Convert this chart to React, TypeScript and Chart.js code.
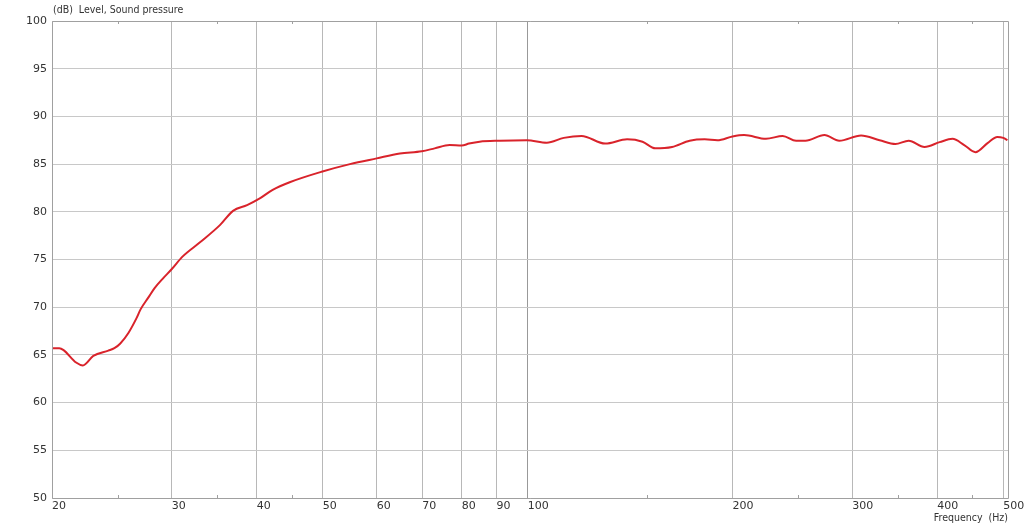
import React, { useEffect, useRef } from "react";
import { Chart, registerables } from "chart.js";

Chart.register(...registerables);

const frequencies: number[] = [
  20, 20.5, 20.8, 21.7, 22.2, 23.0, 24.2, 24.7, 25.2, 25.9, 26.6, 27.0, 27.7, 28.3, 29.1, 30.0,
  31.1, 33.0, 35.3, 36.9, 38.7, 40.4, 42.2, 44.7, 49.8, 54.8, 60.0, 64.9, 69.9, 73.0, 76.8,
  80, 82, 85, 91, 99.7, 106.7, 113, 120, 130, 140, 147.5, 154, 163, 173, 182, 190, 200, 208,
  224, 237, 248, 256, 273, 287, 309, 329, 347, 363, 383, 403, 421, 438, 455, 474, 490, 500, 507,
];
const levels: number[] = [
  65.7, 65.7, 65.5, 64.2, 63.9, 64.9, 65.45, 65.7, 66.2, 67.3, 68.8, 69.8, 71.0, 72.0, 73.0, 74.0,
  75.3, 76.8, 78.6, 80.1, 80.7, 81.4, 82.3, 83.1, 84.2, 85.0, 85.6, 86.1, 86.35, 86.65, 87.0,
  86.95, 87.15, 87.35, 87.45, 87.5, 87.25, 87.75, 87.95, 87.15, 87.6, 87.35, 86.65, 86.8, 87.45, 87.6, 87.5, 87.9, 88.05,
  87.65, 87.95, 87.45, 87.45, 88.05, 87.45, 88.0, 87.5, 87.1, 87.45, 86.8, 87.3, 87.65, 87.0, 86.25, 87.2, 87.85, 87.75, 87.5,
];
const xTicks: number[] = [20, 30, 40, 50, 60, 70, 80, 90, 100, 200, 300, 400, 500];
const xMinorTicks: number[] = [25, 35, 45, 150, 250, 350, 450];
const yTicks: number[] = [50, 55, 60, 65, 70, 75, 80, 85, 90, 95, 100];

const yTitle = "(dB)  Level, Sound pressure";
const xTitle = "Frequency  (Hz)";

const FONT = "'DejaVu Sans', Verdana, sans-serif";
const TITLE_FONT = "'DejaVu Sans Condensed', 'DejaVu Sans', sans-serif";
const TEXT = "#333333";

export default function App() {
  const ref = useRef<HTMLCanvasElement | null>(null);

  useEffect(() => {
    if (!ref.current) return;
    const decor = {
      id: "decor",
      afterDraw(chart: any) {
        const ctx = chart.ctx;
        const { left, right, top, bottom } = chart.chartArea;
        const xs = chart.scales.x;
        ctx.save();
        ctx.strokeStyle = "#a0a0a0";
        ctx.lineWidth = 1;
        ctx.beginPath();
        ctx.rect(Math.round(left) + 0.5, Math.round(top) + 0.5, Math.round(right - left), Math.round(bottom - top));
        ctx.stroke();
        ctx.beginPath();
        for (const v of xMinorTicks) {
          const px = Math.round(xs.getPixelForValue(v)) + 0.5;
          ctx.moveTo(px, top);
          ctx.lineTo(px, top + 3);
          ctx.moveTo(px, bottom);
          ctx.lineTo(px, bottom - 3);
        }
        ctx.stroke();
        ctx.fillStyle = TEXT;
        ctx.font = `10.5px ${TITLE_FONT}`;
        ctx.textBaseline = "middle";
        ctx.textAlign = "left";
        ctx.fillText(yTitle, left + 1, 10);
        ctx.textAlign = "right";
        ctx.fillText(xTitle, right, 518);
        ctx.restore();
      },
    };

    const chart = new Chart(ref.current, {
      type: "line",
      data: {
        datasets: [
          {
            data: frequencies.map((f, i) => ({ x: f, y: levels[i] })),
            borderColor: "#d9232b",
            borderWidth: 2,
            pointRadius: 0,
            cubicInterpolationMode: "monotone",
            fill: false,
          },
        ],
      },
      options: {
        animation: false,
        responsive: false,
        layout: { padding: { top: 21, right: 16, left: 0, bottom: 0 } },
        plugins: { legend: { display: false }, tooltip: { enabled: false }, title: { display: false } },
        scales: {
          x: {
            type: "logarithmic",
            min: 20,
            max: 508,
            afterBuildTicks: (scale: any) => {
              scale.ticks = xTicks.map((v) => ({ value: v }));
            },
            afterFit: (scale: any) => {
              scale.height = 27;
              scale.paddingLeft = 0;
              scale.paddingRight = 0;
            },
            ticks: {
              autoSkip: false,
              maxRotation: 0,
              align: "start",
              padding: 2,
              color: TEXT,
              font: { family: FONT, size: 11 },
              callback: (v: any) => String(v),
            },
            grid: {
              drawTicks: false,
              color: (ctx: any) => (ctx.tick && ctx.tick.value === 100 ? "#999999" : "#b8b8b8"),
            },
            border: { display: false },
          },
          y: {
            min: 50,
            max: 100,
            afterBuildTicks: (scale: any) => {
              scale.ticks = yTicks.map((v) => ({ value: v }));
            },
            afterFit: (scale: any) => {
              scale.width = 52;
              scale.paddingTop = 0;
              scale.paddingBottom = 0;
            },
            ticks: {
              padding: 5,
              color: TEXT,
              font: { family: FONT, size: 11 },
              callback: (v: any) => String(v),
            },
            grid: { drawTicks: false, color: "#c8c8c8" },
            border: { display: false },
          },
        },
      },
      plugins: [decor],
    } as any);
    return () => chart.destroy();
  }, []);

  return (
    <div style={{ position: "absolute", left: 0, top: 0, width: 1024, height: 525, background: "#ffffff" }}>
      <canvas ref={ref} width={1024} height={525} style={{ display: "block" }} />
    </div>
  );
}
